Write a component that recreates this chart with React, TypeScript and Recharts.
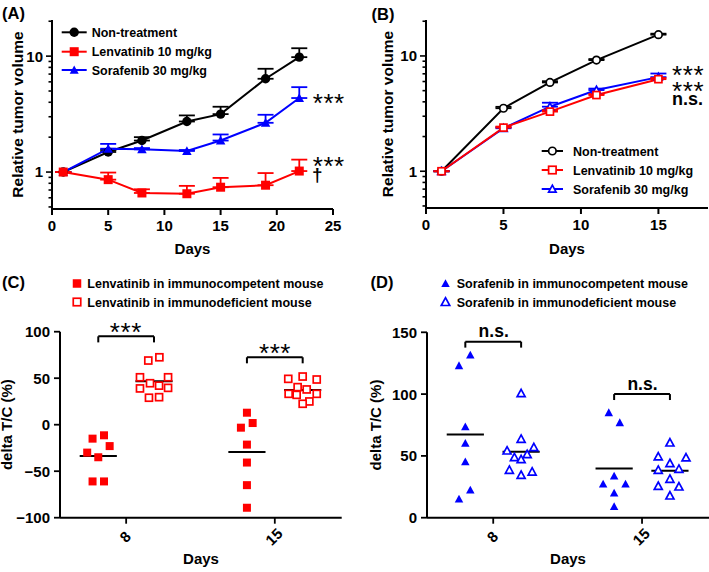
import React from 'react';
import { LineChart, Line, XAxis, YAxis, ErrorBar, ScatterChart, Scatter, ReferenceLine } from 'recharts';

const FONT = '"Liberation Sans", Arial, Helvetica, sans-serif';
const RED = '#ff0000';
const BLUE = '#0000ff';
const BLACK = '#000000';

// ---------- Panel A (immunocompetent, relative tumor volume) ----------
const daysA = [1, 5, 8, 12, 15, 19, 22];
const nonA = [1, 1.49, 1.87, 2.73, 3.16, 6.38, 9.8];
const nonAErr = [0, 0.06, 0.13, 0.35, 0.5, 1.4, 1.9];
const lenA = [1, 0.86, 0.66, 0.65, 0.74, 0.77, 1.02];
const lenAErr = [0, 0.13, 0.05, 0.11, 0.15, 0.21, 0.26];
const sorA = [1, 1.59, 1.57, 1.52, 1.87, 2.66, 4.35];
const sorAErr = [0, 0.16, 0.04, 0.03, 0.24, 0.46, 1.05];

// ---------- Panel B (immunodeficient, relative tumor volume) ----------
const daysB = [1, 5, 8, 11, 15];
const nonB = [1, 3.52, 5.89, 9.2, 15.3];
const nonBErr = [0, 0.1, 0.15, 0.2, 0.3];
const lenB = [1, 2.39, 3.29, 4.58, 6.29];
const lenBErr = [0, 0.05, 0.1, 0.1, 0.15];
const sorB = [1, 2.36, 3.63, 5.06, 6.55];
const sorBErr = [0, 0.05, 0.3, 0.15, 0.49];

const seriesLabels = ['Non-treatment', 'Lenvatinib 10 mg/kg', 'Sorafenib 30 mg/kg'];
const logTicks = [0.5, 0.6, 0.7, 0.8, 0.9, 1, 2, 3, 4, 5, 6, 7, 8, 9, 10, 20];
const logMajor = [1, 10];
const dayTicksA = [0, 5, 10, 15, 20, 25];
const dayTicksB = [0, 5, 10, 15];

// ---------- Panels C / D (delta T/C %) ----------
const dotDays = ['8', '15'];
const dotDayPos = [1, 3];
const groupShift = [-0.375, 0.375]; // immunocompetent, immunodeficient

const cComp8 = [-15, -11.4, -23, -30, -35, -61, -61];
const cComp8Jit = [-0.077, 0.077, 0.153, -0.149, 0, -0.077, 0.077];
const cDef8 = [69, 72.5, 51, 51, 44.6, 42, 39, 39.6, 29, 29.6];
const cDef8Jit = [-0.077, 0.072, -0.189, 0.189, -0.054, 0.068, -0.189, 0.189, -0.068, 0.068];
const cComp15 = [12.9, 1.8, -3.2, -21.4, -40.7, -65, -89.3];
const cComp15Jit = [0, 0.077, -0.081, 0, 0, 0, 0];
const cDef15 = [49.3, 51.8, 48.6, 40.4, 37.9, 33.2, 32.1, 33.2, 25, 22.5];
const cDef15Jit = [-0.194, 0, 0.189, -0.068, 0.054, -0.189, -0.081, 0.189, 0.09, 0];

const dComp8 = [131.6, 123, 73.6, 60.2, 45.3, 22.4, 15.1];
const dComp8Jit = [0.067, -0.085, 0, 0, 0, 0.067, -0.085];
const dDef8 = [100.6, 63.7, 56.9, 54.2, 51.3, 48.8, 47.2, 38.6, 37.2, 34.5];
const dDef8Jit = [0, 0, 0.171, -0.189, 0.081, -0.09, 0, -0.158, 0.148, 0];
const dComp15 = [85, 76.9, 33.7, 27.2, 27.2, 20, 9];
const dComp15Jit = [-0.072, 0.076, 0, -0.148, 0.153, 0, 0];
const dDef15 = [60.7, 49.4, 48.6, 44, 38.6, 39.4, 31.3, 25.6, 25.1, 17.8];
const dDef15Jit = [0, -0.157, 0.216, 0, -0.157, 0.121, 0, -0.157, 0.121, 0];

const cBracketY = [95, 72.5];
const cBracketDrop = 6.5;
const dBracketY = [142.4, 100];
const dBracketDrop = 4.8;
const cSig = ['***', '***'];
const dSig = ['n.s.', 'n.s.'];

const cLegend = ['Lenvatinib in immunocompetent mouse', 'Lenvatinib in immunodeficient mouse'];
const dLegend = ['Sorafenib in immunocompetent mouse', 'Sorafenib in immunodeficient mouse'];

// ---------- helpers ----------
const dataA = daysA.map((d, i) => ({
  day: d,
  non: nonA[i], nonErr: [0, nonAErr[i]],
  len: lenA[i], lenErr: [0, lenAErr[i]],
  sor: sorA[i], sorErr: [0, sorAErr[i]],
}));
const dataB = daysB.map((d, i) => ({
  day: d,
  non: nonB[i], nonErr: [0, nonBErr[i]],
  len: lenB[i], lenErr: [0, lenBErr[i]],
  sor: sorB[i], sorErr: [0, sorBErr[i]],
}));

const pts = (vals: number[], jit: number[], dayIdx: number, grp: number) =>
  vals.map((v, i) => ({ x: dotDayPos[dayIdx] + groupShift[grp] + jit[i], y: v }));
const mean = (a: number[]) => a.reduce((s, v) => s + v, 0) / a.length;

function Marker({ kind, cx, cy, color, open, size }: any) {
  const fill = open ? '#ffffff' : color;
  const sw = open ? 1.7 : 0;
  if (kind === 'circle') {
    return <circle cx={cx} cy={cy} r={size / 2} fill={fill} stroke={color} strokeWidth={open ? 1.7 : 0} />;
  }
  if (kind === 'square') {
    return <rect x={cx - size / 2} y={cy - size / 2} width={size} height={size} fill={fill} stroke={color} strokeWidth={sw} />;
  }
  const h = size * 0.92;
  const p = `${cx},${cy - h * 0.55} ${cx + size / 2},${cy + h * 0.45} ${cx - size / 2},${cy + h * 0.45}`;
  return <polygon points={p} fill={fill} stroke={color} strokeWidth={sw} strokeLinejoin="miter" />;
}

const dotFn = (kind: string, color: string, open: boolean, size: number) => (p: any) =>
  <Marker key={`${kind}-${p.index}`} kind={kind} cx={p.cx} cy={p.cy} color={color} open={open} size={size} />;

const LogTick = (props: any) => {
  const { x, y, payload } = props;
  const v = payload.value;
  const major = logMajor.includes(v);
  return (
    <g>
      <line x1={x - (major ? 6 : 3.5)} x2={x} y1={y} y2={y} stroke={BLACK} strokeWidth={1.6} />
      {major && (
        <text x={x - 9} y={y} dy="0.36em" textAnchor="end" fontSize={15} fontWeight={700} fontFamily={FONT} fill={BLACK}>
          {v}
        </text>
      )}
    </g>
  );
};

const LinTick = (props: any) => {
  const { x, y, payload } = props;
  const v = payload.value;
  const label = v < 0 ? `\u2212${Math.abs(v)}` : `${v}`;
  return (
    <g>
      <line x1={x - 6} x2={x} y1={y} y2={y} stroke={BLACK} strokeWidth={1.8} />
      <text x={x - 10} y={y} dy="0.36em" textAnchor="end" fontSize={15} fontWeight={700} fontFamily={FONT} fill={BLACK}>
        {label}
      </text>
    </g>
  );
};

const CatTick = (props: any) => {
  const { x, y, payload } = props;
  const idx = dotDayPos.indexOf(payload.value);
  const tx = x - 1;
  const ty = y + 19;
  return (
    <g>
      <line x1={x} x2={x} y1={y} y2={y + 6} stroke={BLACK} strokeWidth={1.8} />
      <text x={tx} y={ty} textAnchor="middle" dominantBaseline="central" transform={`rotate(-45 ${tx} ${ty})`}
        fontSize={15} fontWeight={700} fontFamily={FONT} fill={BLACK}>
        {dotDays[idx]}
      </text>
    </g>
  );
};

const axisLine = { stroke: BLACK, strokeWidth: 2 };
const tickStyle = { fill: BLACK, fontSize: 15, fontWeight: 700, fontFamily: FONT };

function GrowthChart({ data, domainX, ticksX, yWidth, xHeight, width, height, right, open }: any) {
  const sz = open ? 7 : 9;
  return (
    <LineChart width={width} height={height} data={data} margin={{ top: 20, right, left: 0, bottom: 0 }}>
      <XAxis type="number" dataKey="day" domain={domainX} ticks={ticksX} interval={0} allowDataOverflow
        height={xHeight} tickSize={6} tickMargin={5} axisLine={axisLine} tickLine={{ stroke: BLACK, strokeWidth: 2 }} tick={tickStyle} />
      <YAxis type="number" scale="log" domain={[0.48, 20.5]} allowDataOverflow ticks={logTicks} interval={0}
        width={yWidth} tickSize={0} tickMargin={0} tickLine={false} axisLine={axisLine} tick={(p: any) => <LogTick {...p} />} />
      <Line dataKey="non" stroke={BLACK} strokeWidth={2} isAnimationActive={false}
        dot={dotFn('circle', BLACK, open, open ? 7.5 : 9.4)}>
        <ErrorBar dataKey="nonErr" width={8} stroke={BLACK} strokeWidth={1.8} direction="y" />
      </Line>
      <Line dataKey="sor" stroke={BLUE} strokeWidth={2} isAnimationActive={false}
        dot={dotFn('triangle', BLUE, open, sz + 0.5)}>
        <ErrorBar dataKey="sorErr" width={8} stroke={BLUE} strokeWidth={1.8} direction="y" />
      </Line>
      <Line dataKey="len" stroke={RED} strokeWidth={2} isAnimationActive={false}
        dot={dotFn('square', RED, open, sz)}>
        <ErrorBar dataKey="lenErr" width={8} stroke={RED} strokeWidth={1.8} direction="y" />
      </Line>
    </LineChart>
  );
}

function DotChart({ groups, yDomain, yTicks, yWidth, width, height, top, right, bracketY, bracketDrop, kind, color }: any) {
  return (
    <ScatterChart width={width} height={height} margin={{ top, right, left: 0, bottom: 0 }}>
      <XAxis type="number" dataKey="x" domain={[0.11, 3.9]} ticks={dotDayPos} interval={0} allowDataOverflow
        height={54.3} tickSize={0} tickMargin={0} tickLine={false} axisLine={axisLine} tick={(p: any) => <CatTick {...p} />} />
      <YAxis type="number" dataKey="y" domain={yDomain} ticks={yTicks} interval={0} allowDataOverflow
        width={yWidth} tickSize={0} tickMargin={0} tickLine={false} axisLine={axisLine} tick={(p: any) => <LinTick {...p} />} />
      {groups.map((g: any, i: number) => (
        <Scatter key={`s${i}`} data={pts(g.vals, g.jit, g.day, g.grp)} isAnimationActive={false}
          shape={(p: any) => <Marker kind={kind} cx={p.cx} cy={p.cy} color={color} open={g.grp === 1} size={kind === 'square' ? (g.grp === 1 ? 7 : 8) : (g.grp === 1 ? 8 : 8.5)} />} />
      ))}
      {groups.map((g: any, i: number) => {
        const c = dotDayPos[g.day] + groupShift[g.grp];
        const m = mean(g.vals);
        return <ReferenceLine key={`m${i}`} segment={[{ x: c - 0.25, y: m }, { x: c + 0.25, y: m }]} stroke={BLACK} strokeWidth={2} />;
      })}
      {bracketY.map((by: number, d: number) => {
        const x1 = dotDayPos[d] + groupShift[0];
        const x2 = dotDayPos[d] + groupShift[1];
        return (
          <React.Fragment key={`b${d}`}>
            <ReferenceLine segment={[{ x: x1, y: by }, { x: x2, y: by }]} stroke={BLACK} strokeWidth={2} />
            <ReferenceLine segment={[{ x: x1, y: by }, { x: x1, y: by - bracketDrop }]} stroke={BLACK} strokeWidth={2} />
            <ReferenceLine segment={[{ x: x2, y: by }, { x: x2, y: by - bracketDrop }]} stroke={BLACK} strokeWidth={2} />
          </React.Fragment>
        );
      })}
    </ScatterChart>
  );
}

const T = (p: any) => <text fontFamily={FONT} fontWeight={700} fill={BLACK} {...p} />;

// small text scaled up: keeps tight stacking like the original figure
const ST = ({ x, y, s, children, weight = 400, spacing = 0 }: any) => (
  <text transform={`translate(${x} ${y}) scale(${s})`} x={0} y={0} fontSize={14} fontFamily={FONT}
    fontWeight={weight} letterSpacing={spacing} fill={BLACK}>{children}</text>
);

function LegendRow({ x1, x2, y, kind, color, open, size, label, textX }: any) {
  return (
    <g>
      <line x1={x1} x2={x2} y1={y} y2={y} stroke={color} strokeWidth={2} />
      <Marker kind={kind} cx={(x1 + x2) / 2} cy={y} color={color} open={open} size={size} />
      <T x={textX} y={y + 4.5} fontSize={12.5}>{label}</T>
    </g>
  );
}

const STAR = { fontSize: 26, fontWeight: 400, letterSpacing: 0.6 };
const STAR_S = 26 / 14;

export default function App() {
  const kinds = ['circle', 'square', 'triangle'];
  const colors = [BLACK, RED, BLUE];
  const cGroups = [
    { vals: cComp8, jit: cComp8Jit, day: 0, grp: 0 },
    { vals: cDef8, jit: cDef8Jit, day: 0, grp: 1 },
    { vals: cComp15, jit: cComp15Jit, day: 1, grp: 0 },
    { vals: cDef15, jit: cDef15Jit, day: 1, grp: 1 },
  ];
  const dGroups = [
    { vals: dComp8, jit: dComp8Jit, day: 0, grp: 0 },
    { vals: dDef8, jit: dDef8Jit, day: 0, grp: 1 },
    { vals: dComp15, jit: dComp15Jit, day: 1, grp: 0 },
    { vals: dDef15, jit: dDef15Jit, day: 1, grp: 1 },
  ];
  return (
    <div style={{ position: 'absolute', left: 0, top: 0, width: 709, height: 572, background: '#fff', overflow: 'hidden', fontFamily: FONT }}>
      <div style={{ position: 'absolute', left: 0, top: 0 }}>
        <GrowthChart data={dataA} domainX={[0, 25]} ticksX={dayTicksA} yWidth={52} xHeight={81} width={355} height={290} right={22} open={false} />
      </div>
      <div style={{ position: 'absolute', left: 355, top: 0 }}>
        <GrowthChart data={dataB} domainX={[0, 18.2]} ticksX={dayTicksB} yWidth={71} xHeight={82} width={354} height={290} right={1} open={true} />
      </div>
      <div style={{ position: 'absolute', left: 0, top: 290 }}>
        <DotChart groups={cGroups} yDomain={[-100, 100]} yTicks={[-100, -50, 0, 50, 100]} yWidth={60} width={355} height={282}
          top={41.7} right={13.3} bracketY={cBracketY} bracketDrop={cBracketDrop} kind="square" color={RED} />
      </div>
      <div style={{ position: 'absolute', left: 355, top: 290 }}>
        <DotChart groups={dGroups} yDomain={[0, 150]} yTicks={[0, 50, 100, 150]} yWidth={72} width={354} height={282}
          top={42.3} right={0} bracketY={dBracketY} bracketDrop={dBracketDrop} kind="triangle" color={BLUE} />
      </div>

      <svg width={709} height={572} style={{ position: 'absolute', left: 0, top: 0, pointerEvents: 'none' }}>
        {/* panel labels */}
        <T x={2} y={18.5} fontSize={16.5}>(A)</T>
        <T x={371.5} y={19.5} fontSize={16.5}>(B)</T>
        <T x={2} y={287.5} fontSize={16.5}>(C)</T>
        <T x={370.5} y={287.5} fontSize={16.5}>(D)</T>

        {/* axis titles */}
        <T x={22.5} y={114.5} fontSize={15.5} textAnchor="middle" transform="rotate(-90 22.5 114.5)">Relative tumor volume</T>
        <T x={393} y={114} fontSize={15.5} textAnchor="middle" transform="rotate(-90 393 114)">Relative tumor volume</T>
        <T x={192.5} y={253.5} fontSize={15} textAnchor="middle">Days</T>
        <T x={567} y={253.5} fontSize={15} textAnchor="middle">Days</T>
        <T x={12.5} y={424.7} fontSize={15} textAnchor="middle" transform="rotate(-90 12.5 424.7)">delta T/C (%)</T>
        <T x={381} y={425} fontSize={15} textAnchor="middle" transform="rotate(-90 381 425)">delta T/C (%)</T>
        <T x={201} y={564} fontSize={15} textAnchor="middle">Days</T>
        <T x={568} y={564} fontSize={15} textAnchor="middle">Days</T>

        {/* legends A / B */}
        {seriesLabels.map((lab, i) => (
          <LegendRow key={`la${i}`} x1={61.7} x2={86.7} y={[32.3, 51.7, 70][i]} kind={kinds[i]} color={colors[i]} open={false}
            size={i === 0 ? 9.4 : 9} label={lab} textX={91.7} />
        ))}
        {seriesLabels.map((lab, i) => (
          <LegendRow key={`lb${i}`} x1={541.7} x2={563} y={[151, 170, 189][i]} kind={kinds[i]} color={colors[i]} open={true}
            size={7.5} label={lab} textX={573} />
        ))}

        {/* legends C / D */}
        {cLegend.map((lab, i) => (
          <g key={`lc${i}`}>
            <Marker kind="square" cx={77} cy={[283.5, 302][i]} color={RED} open={i === 1} size={i === 1 ? 7.5 : 8.5} />
            <T x={87.3} y={[283.5, 302][i] + 4.5} fontSize={12.5}>{lab}</T>
          </g>
        ))}
        {dLegend.map((lab, i) => (
          <g key={`ld${i}`}>
            <Marker kind="triangle" cx={445.5} cy={[283.5, 302][i]} color={BLUE} open={i === 1} size={8.5} />
            <T x={456.7} y={[283.5, 302][i] + 4.5} fontSize={12.5}>{lab}</T>
          </g>
        ))}

        {/* significance annotations */}
        <T x={312.7} y={112.3} {...STAR}>***</T>
        <ST x={312.7} y={175.3} s={STAR_S} spacing={0.32}>***</ST>
        <ST x={312} y={181.2} s={19 / 14} weight={700}>{'\u2020'}</ST>
        <ST x={672} y={84.3} s={STAR_S} spacing={0.32}>***</ST>
        <ST x={672} y={100.3} s={STAR_S} spacing={0.32}>***</ST>
        <ST x={672} y={104.7} s={18 / 14} weight={700}>n.s.</ST>

        <T x={125.8} y={341.3} textAnchor="middle" {...STAR}>{cSig[0]}</T>
        <T x={275} y={362} textAnchor="middle" {...STAR}>{cSig[1]}</T>
        <T x={493.7} y={337} fontSize={17.5} textAnchor="middle">{dSig[0]}</T>
        <T x={642.5} y={390} fontSize={17.5} textAnchor="middle">{dSig[1]}</T>
      </svg>
    </div>
  );
}
